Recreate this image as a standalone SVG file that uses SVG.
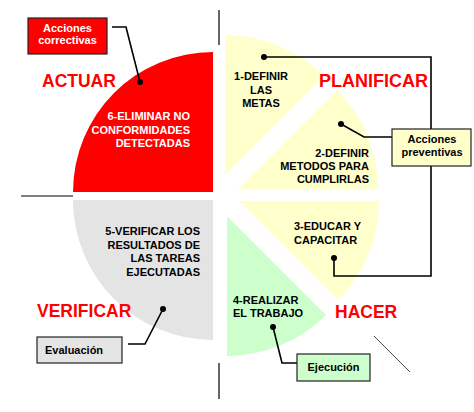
<svg xmlns="http://www.w3.org/2000/svg" width="474" height="412" viewBox="0 0 474 412">
<style>
text{font-family:"Liberation Sans",Arial,sans-serif;font-weight:bold}
.t{font-size:11px;fill:#000}
.w{font-size:11px;fill:#fff}
.big{font-size:17.5px;fill:#ff0000}
.c{fill:none;stroke:#000;stroke-width:1.6}
.ax{stroke:#000;stroke-width:1.2}
.box{stroke:#222;stroke-width:1.2}
</style>
<rect width="474" height="412" fill="#fff"/>
<g id="axes">
<line class="ax" x1="21" y1="196" x2="73" y2="196"/>
<line class="ax" x1="219" y1="10" x2="219" y2="45"/>
<line class="ax" x1="219" y1="363" x2="219" y2="399"/>
<line x1="374" y1="336" x2="410" y2="372" stroke="#555" stroke-width="1"/>
</g>
<g id="actuar">
<path d="M213,192 L73,192 A140,140 0 0 1 213,52 Z" fill="#ff0000"/>
<text class="w" text-anchor="end"><tspan x="190" y="120">6-ELIMINAR NO</tspan><tspan x="190" y="133.5">CONFORMIDADES</tspan><tspan x="190" y="147">DETECTADAS</tspan></text>
<text class="big" x="42" y="87">ACTUAR</text>
</g>
<g id="verificar">
<path d="M213,200 L213,340 A140,140 0 0 1 73,200 Z" fill="#e4e4e4"/>
<text class="t" text-anchor="end"><tspan x="200" y="235">5-VERIFICAR LOS</tspan><tspan x="200" y="248.5">RESULTADOS DE</tspan><tspan x="200" y="262">LAS TAREAS</tspan><tspan x="200" y="275.5">EJECUTADAS</tspan></text>
<text class="big" x="37" y="317">VERIFICAR</text>
</g>
<g id="paso1">
<path d="M225,175 L225,35 A140,140 0 0 1 324,76 Z" fill="#ffffcc"/>
<text class="t" text-anchor="middle"><tspan x="261" y="80">1-DEFINIR</tspan><tspan x="261" y="93.5">LAS</tspan><tspan x="261" y="107">METAS</tspan></text>
</g>
<g id="paso2">
<path d="M238,189 L337,90 A140,140 0 0 1 378,189 Z" fill="#ffffcc"/>
<text class="t" text-anchor="end"><tspan x="369" y="157">2-DEFINIR</tspan><tspan x="369" y="170">METODOS PARA</tspan><tspan x="369" y="183">CUMPLIRLAS</tspan></text>
</g>
<g id="paso3">
<path d="M239,201 L379,201 A140,140 0 0 1 338,300 Z" fill="#ffffcc"/>
<text class="t"><tspan x="294" y="230">3-EDUCAR Y</tspan><tspan x="294" y="243.5">CAPACITAR</tspan></text>
</g>
<g id="paso4">
<path d="M227,216 L326,315 A140,140 0 0 1 227,356 Z" fill="#ccffcc"/>
<text class="t"><tspan x="233" y="304">4-REALIZAR</tspan><tspan x="233" y="317">EL TRABAJO</tspan></text>
</g>
<g id="titulos">
<text class="big" x="319" y="87" style="font-size:18px">PLANIFICAR</text>
<text class="big" x="335" y="318">HACER</text>
</g>
<g id="connectors">
<polyline class="c" points="112,27 126,27 140,82"/>
<circle cx="140" cy="82" r="3"/>
<polyline class="c" points="264,57 431,57 431,276 334,276 334,258"/>
<circle cx="264" cy="57" r="3"/>
<circle cx="334" cy="258" r="3"/>
<polyline class="c" points="341,124 364,137 392,137"/>
<circle cx="341" cy="124" r="3"/>
<polyline class="c" points="273,327 282,363 298,363"/>
<circle cx="273" cy="327" r="3"/>
<polyline class="c" points="163,309 145,344 128,344"/>
<circle cx="163" cy="309" r="3"/>
</g>
<g id="correctivas">
<rect class="box" x="28" y="18" width="79" height="36" fill="#ff0000"/>
<text class="w" text-anchor="middle"><tspan x="67.5" y="32">Acciones</tspan><tspan x="67.5" y="44">correctivas</tspan></text>
</g>
<g id="preventivas">
<rect class="box" x="392" y="129" width="79" height="37" fill="#ffffcc"/>
<text class="t" text-anchor="middle"><tspan x="432" y="143">Acciones</tspan><tspan x="432" y="156">preventivas</tspan></text>
</g>
<g id="ejecucion">
<rect class="box" x="297" y="354" width="73" height="27" fill="#ccffcc"/>
<text class="t" x="333.5" y="371" text-anchor="middle">Ejecución</text>
</g>
<g id="evaluacion">
<rect class="box" x="37" y="337" width="85" height="26" fill="#e4e4e4"/>
<text class="t" x="45" y="354">Evaluación</text>
</g>
</svg>
